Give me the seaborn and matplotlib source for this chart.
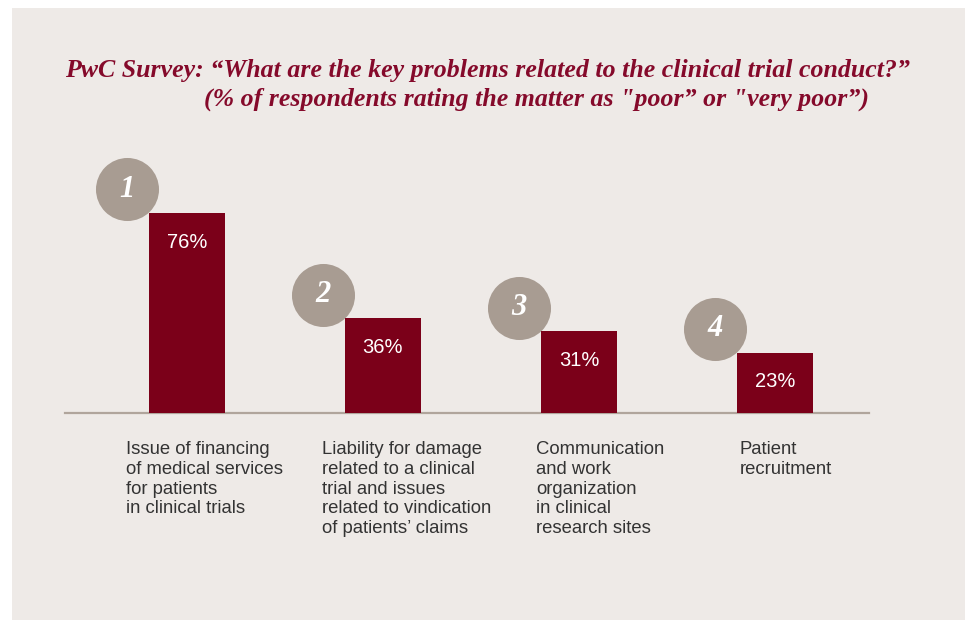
# libraries
import matplotlib
matplotlib.use('Agg')
import matplotlib.pyplot as plt
import seaborn as sns
from matplotlib.patches import Rectangle

# data
ranks = ['1', '2', '3', '4']
values = [76, 36, 31, 23]
value_labels = ['76%', '36%', '31%', '23%']
categories = [
    'Issue of financing\nof medical services\nfor patients\nin clinical trials',
    'Liability for damage\nrelated to a clinical\ntrial and issues\nrelated to vindication\nof patients\u2019 claims',
    'Communication\nand work\norganization\nin clinical\nresearch sites',
    'Patient\nrecruitment',
]
title_line1 = 'PwC Survey: \u201cWhat are the key problems related to the clinical trial conduct?\u201d'
title_line2 = '(% of respondents rating the matter as "poor\u201d or "very poor\u201d)'

# colours
bar_color = '#7B0019'
circle_color = '#A89C92'
title_color = '#850A2B'
panel_color = '#EEEAE7'
axis_color = '#B0A59C'
text_color = '#333333'

sns.set_style('white')
plt.rcParams['font.family'] = ['Liberation Sans', 'DejaVu Sans']

W, H = 969, 621
fig = plt.figure(figsize=(W / 100, H / 100), dpi=100, facecolor='white')

# beige panel behind everything
fig.patches.append(Rectangle((12 / W, 1 - 620 / H), (965 - 12) / W, (620 - 8) / H,
                             transform=fig.transFigure, facecolor=panel_color,
                             edgecolor='none', zorder=-5))

# axes: baseline at y=413px, 100% = 263px
ax = fig.add_axes([65 / W, (H - 413) / H, (869 - 65) / W, 263 / H])
ax.set_facecolor('none')

sns.barplot(x=list(range(len(values))), y=values, color=bar_color, width=0.388,
            saturation=1, ax=ax, zorder=3, native_scale=True, linewidth=0)

ax.set_xlim(-0.622, 3.48)
ax.set_ylim(0, 100)

# rank circles (behind bars)
circle_dx, circle_dy = -0.305, 9
ax.scatter([i + circle_dx for i in range(len(values))],
           [v + circle_dy for v in values],
           s=2060, color=circle_color, zorder=2, clip_on=False, linewidths=0)
for i, (r, v) in enumerate(zip(ranks, values)):
    ax.text(i + circle_dx, v + circle_dy, r, ha='center', va='center', color='white',
            fontsize=22, fontweight='bold', fontstyle='italic',
            family=['Liberation Serif', 'DejaVu Serif'], zorder=4, clip_on=False)

# value labels inside bars
for i, (lab, v) in enumerate(zip(value_labels, values)):
    ax.text(i, v - 11, lab, ha='center', va='center', color='white',
            fontsize=14.5, zorder=5)

# category labels under the axis
label_dx = [-0.31, -0.31, -0.22, -0.18]
for i, (cat, dx) in enumerate(zip(categories, label_dx)):
    ax.text(i + dx, -10.8, cat, ha='left', va='top', color=text_color,
            fontsize=13.3, linespacing=1.2, clip_on=False)

# only the baseline remains
for s in ['top', 'right', 'left']:
    ax.spines[s].set_visible(False)
ax.spines['bottom'].set_color(axis_color)
ax.spines['bottom'].set_linewidth(1.6)
ax.set_xticks([])
ax.set_yticks([])
ax.set_xlabel('')
ax.set_ylabel('')

# title
fig.text(65 / W, 1 - 71 / H, title_line1, ha='left', va='center', color=title_color,
         fontsize=18.6, fontweight='bold', fontstyle='italic',
         family=['Liberation Serif', 'DejaVu Serif'])
fig.text(204 / W, 1 - 99 / H, title_line2, ha='left', va='center', color=title_color,
         fontsize=18.6, fontweight='bold', fontstyle='italic',
         family=['Liberation Serif', 'DejaVu Serif'])

fig.savefig('out.png', dpi=100, facecolor='white')
